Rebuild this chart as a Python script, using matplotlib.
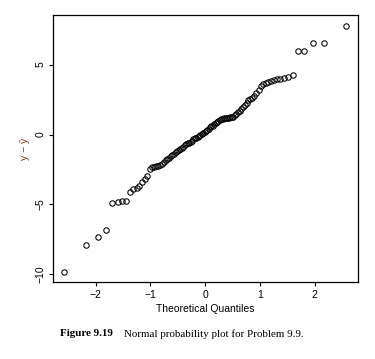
import matplotlib
matplotlib.use("Agg")
import matplotlib.pyplot as plt
from statistics import NormalDist

# Sorted residuals (y - yhat)
residuals = [
    -9.82, -7.92, -7.32, -6.82, -4.89, -4.80, -4.78, -4.76, -4.08, -3.90,
    -3.80, -3.68, -3.40, -3.20, -2.95, -2.45, -2.35, -2.32, -2.28, -2.22,
    -2.15, -2.08, -1.95, -1.85, -1.75, -1.65, -1.55, -1.46, -1.38, -1.28,
    -1.20, -1.12, -1.05, -0.97, -0.88, -0.78, -0.70, -0.63, -0.58, -0.53,
    -0.45, -0.35, -0.27, -0.22, -0.15, -0.10, -0.03, 0.05, 0.12, 0.20,
    0.28, 0.35, 0.42, 0.52, 0.58, 0.63, 0.72, 0.82, 0.92, 1.00,
    1.07, 1.10, 1.13, 1.15, 1.17, 1.19, 1.21, 1.23, 1.25, 1.28,
    1.38, 1.48, 1.60, 1.70, 1.85, 1.98, 2.10, 2.28, 2.48, 2.53,
    2.62, 2.75, 2.95, 3.20, 3.45, 3.60, 3.70, 3.78, 3.85, 3.90,
    3.94, 4.00, 4.05, 4.12, 4.22, 5.96, 5.96, 6.54, 6.54, 7.77,
]
x_ticks = [-2, -1, 0, 1, 2]
y_ticks = [-10, -5, 0, 5]
x_label = "Theoretical Quantiles"
y_label = "y \u2212 \u0177"
caption_bold = "Figure 9.19"
caption_text = "Normal probability plot for Problem 9.9."

# theoretical normal quantiles (R's qqnorm / ppoints)
n = len(residuals)
nd = NormalDist()
theo = [nd.inv_cdf((i - 0.5) / n) for i in range(1, n + 1)]

fig = plt.figure(figsize=(3.75, 3.59), dpi=100)
ax = fig.add_axes([53 / 375, 1 - 282 / 359, (358 - 53) / 375, (282 - 15) / 359])
ax.plot(theo, residuals, linestyle="none", marker="o", markersize=3.9,
        markerfacecolor="none", markeredgecolor="black", markeredgewidth=0.75)
ax.set_xlim(-2.78, 2.79)
ax.set_ylim(-10.54, 8.54)
ax.set_xticks(x_ticks)
ax.set_yticks(y_ticks)
ax.set_xticklabels(["\u22122", "\u22121", "0", "1", "2"], fontfamily="Liberation Sans", fontsize=7.5)
ax.set_yticklabels(["\u221210", "\u22125", "0", "5"], fontfamily="Liberation Sans", fontsize=7.5,
                   rotation=90, va="center")
ax.tick_params(direction="out", length=3.0, width=0.8, pad=2.5)
for s in ax.spines.values():
    s.set_linewidth(0.9)
ax.set_xlabel(x_label, fontfamily="Liberation Sans", fontsize=7.5, labelpad=3)
ax.set_ylabel(y_label, fontfamily="Liberation Sans", fontsize=7.5, color="#7a3a1c", labelpad=4)

fig.text(60 / 375, 1 - 334 / 359, caption_bold, fontfamily="Liberation Serif",
         fontweight="bold", fontsize=7.9, va="center", ha="left")
fig.text(124 / 375, 1 - 334 / 359, caption_text, fontfamily="Liberation Serif",
         fontsize=7.9, va="center", ha="left")

fig.savefig("out.png", dpi=100)
